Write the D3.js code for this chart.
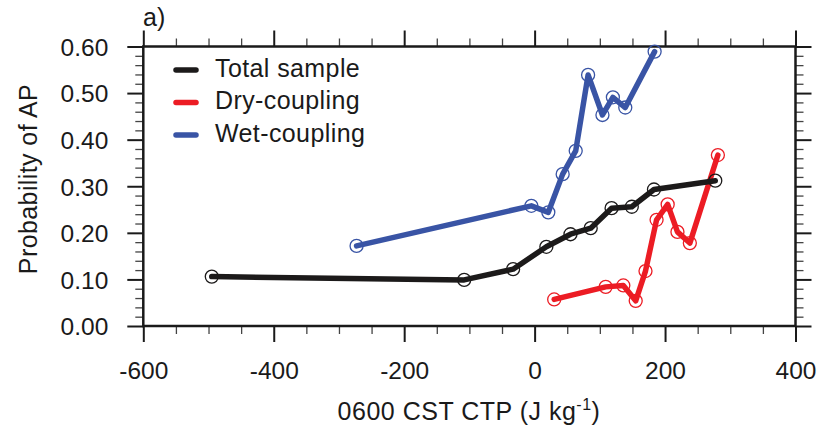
<!DOCTYPE html>
<html>
<head>
<meta charset="utf-8">
<script src="https://cdn.jsdelivr.net/npm/d3@7"></script>
<style>
  body { margin: 0; background: #fff; }
  text { font-family: "Liberation Sans", Arial, Helvetica, sans-serif; fill: #1a1a1a; }
</style>
</head>
<body>
<script>
// values
const totalX = [-495, -108, -33, 18, 55, 86, 118, 149, 183, 277];
const totalY = [0.106, 0.099, 0.122, 0.170, 0.197, 0.210, 0.253, 0.256, 0.293, 0.312];

const dryX = [30, 109, 136, 155, 170, 187, 204, 219, 238, 281];
const dryY = [0.057, 0.084, 0.087, 0.054, 0.118, 0.228, 0.261, 0.202, 0.178, 0.367];

const wetX = [-273, -5, 21, 43, 63, 82, 104, 120, 139, 184];
const wetY = [0.172, 0.258, 0.244, 0.326, 0.376, 0.539, 0.453, 0.491, 0.469, 0.589];

const xTicks = [-600, -400, -200, 0, 200, 400];
const yTicks = [0, 0.1, 0.2, 0.3, 0.4, 0.5, 0.6];
const seriesNames = ["Total sample", "Dry-coupling", "Wet-coupling"];

const w = 821,
      h = 429;
const pLeft = 143.3, pRight = 795.5, pTop = 46.5, pBottom = 326;

const colors = ["#1c1a1a", "#ec1c24", "#3954a5"];

const xScale = d3.scaleLinear().domain([-600, 400]).range([pLeft, pRight]);
const yScale = d3.scaleLinear().domain([0, 0.6]).range([pBottom, pTop]);

const svg = d3.select("body")
              .append("svg")
              .attr("width", w)
              .attr("height", h);

// minor ticks
const xMinor = d3.range(-600, 401, 50).filter(v => v % 200 !== 0);
const yMinor = d3.range(0, 31).map(i => i * 0.02).filter((v, i) => i % 5 !== 0);

function styleAxis(g, major) {
    g.select(".domain").remove();
    g.selectAll(".tick line")
     .attr("stroke", major ? "#1a1a1a" : "#444")
     .attr("stroke-width", major ? 2 : 1.3);
}

svg.append("g")
   .attr("transform", "translate(0," + pBottom + ")")
   .call(d3.axisBottom(xScale).tickValues(xMinor).tickSize(8).tickSizeOuter(0).tickFormat(""))
   .call(g => styleAxis(g, false));
svg.append("g")
   .attr("transform", "translate(0," + pTop + ")")
   .call(d3.axisTop(xScale).tickValues(xMinor).tickSize(8).tickSizeOuter(0).tickFormat(""))
   .call(g => styleAxis(g, false));
svg.append("g")
   .attr("transform", "translate(" + pLeft + ",0)")
   .call(d3.axisLeft(yScale).tickValues(yMinor).tickSize(8).tickSizeOuter(0).tickFormat(""))
   .call(g => styleAxis(g, false));
svg.append("g")
   .attr("transform", "translate(" + pRight + ",0)")
   .call(d3.axisRight(yScale).tickValues(yMinor).tickSize(8).tickSizeOuter(0).tickFormat(""))
   .call(g => styleAxis(g, false));

// major ticks
const xAxis = svg.append("g")
   .attr("transform", "translate(0," + pBottom + ")")
   .call(d3.axisBottom(xScale).tickValues(xTicks).tickSize(16).tickSizeOuter(0).tickFormat(d => String(d)))
   .call(g => styleAxis(g, true));
xAxis.selectAll(".tick text")
     .attr("y", 53)
     .attr("dy", 0)
     .attr("font-size", 24.5)
     .attr("fill", "#1a1a1a");

svg.append("g")
   .attr("transform", "translate(0," + pTop + ")")
   .call(d3.axisTop(xScale).tickValues(xTicks).tickSize(16).tickSizeOuter(0).tickFormat(""))
   .call(g => styleAxis(g, true));

const yAxis = svg.append("g")
   .attr("transform", "translate(" + pLeft + ",0)")
   .call(d3.axisLeft(yScale).tickValues(yTicks).tickSize(16).tickSizeOuter(0).tickFormat(d3.format(".2f")))
   .call(g => styleAxis(g, true));
yAxis.selectAll(".tick text")
     .attr("x", -35)
     .attr("dy", "0.36em")
     .attr("font-size", 24.5)
     .attr("fill", "#1a1a1a");

svg.append("g")
   .attr("transform", "translate(" + pRight + ",0)")
   .call(d3.axisRight(yScale).tickValues(yTicks).tickSize(16).tickSizeOuter(0).tickFormat(""))
   .call(g => styleAxis(g, true));

// frame
svg.append("rect")
   .attr("x", pLeft)
   .attr("y", pTop)
   .attr("width", pRight - pLeft)
   .attr("height", pBottom - pTop)
   .attr("fill", "none")
   .attr("stroke", "#1a1a1a")
   .attr("stroke-width", 2.5);

const series = [
    { name: seriesNames[0], xs: totalX, ys: totalY, color: colors[0] },
    { name: seriesNames[1], xs: dryX, ys: dryY, color: colors[1] },
    { name: seriesNames[2], xs: wetX, ys: wetY, color: colors[2] }
];

const line = d3.line()
               .x(d => xScale(d[0]))
               .y(d => yScale(d[1]));

// lines first, markers on top
[1, 0, 2].forEach(k => {
    const s = series[k];
    svg.append("path")
       .datum(s.xs.map((x, i) => [x, s.ys[i]]))
       .attr("d", line)
       .attr("fill", "none")
       .attr("stroke", s.color)
       .attr("stroke-width", 5.5)
       .attr("stroke-linejoin", "round")
       .attr("stroke-linecap", "round");
});

series.forEach(s => {
    svg.append("g")
       .selectAll("circle")
       .data(s.xs.map((x, i) => [x, s.ys[i]]))
       .enter()
       .append("circle")
       .attr("cx", d => xScale(d[0]))
       .attr("cy", d => yScale(d[1]))
       .attr("r", 6.5)
       .attr("fill", "none")
       .attr("stroke", s.color)
       .attr("stroke-width", 1.3);
});

// legend
const legend = svg.append("g");
series.forEach((s, i) => {
    const ly = 70 + i * 32.5;
    legend.append("line")
          .attr("x1", 176)
          .attr("x2", 196)
          .attr("y1", ly)
          .attr("y2", ly)
          .attr("stroke", s.color)
          .attr("stroke-width", 5.5)
          .attr("stroke-linecap", "round");
    legend.append("text")
          .attr("x", 215)
          .attr("y", ly + 6.8)
          .attr("font-size", 25)
          .attr("letter-spacing", 0.4)
          .text(s.name);
});

// labels
svg.append("text")
   .attr("x", 143)
   .attr("y", 26)
   .attr("font-size", 25)
   .text("a)");

svg.append("text")
   .attr("transform", "translate(37,179)rotate(-90)")
   .attr("text-anchor", "middle")
   .attr("font-size", 25)
   .attr("letter-spacing", 0.4)
   .text("Probability of AP");

const xt = svg.append("text")
   .attr("x", 469)
   .attr("y", 420)
   .attr("text-anchor", "middle")
   .attr("font-size", 25)
   .attr("letter-spacing", 0.5);
xt.append("tspan").text("0600 CST CTP (J kg");
xt.append("tspan").attr("dy", -10).attr("font-size", 16).text("-1");
xt.append("tspan").attr("dy", 10).text(")");
</script>
</body>
</html>
